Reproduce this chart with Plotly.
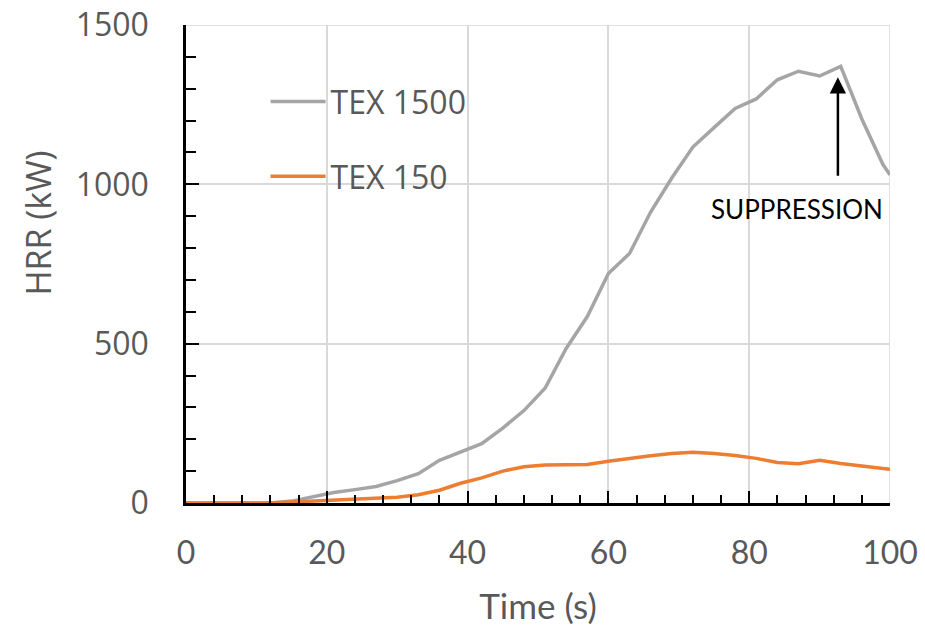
import plotly.graph_objects as go

time_s = [0, 3, 6, 9, 12, 15, 18, 21, 24, 27, 30, 33, 36, 39, 42, 45, 48, 51, 54, 57,
          60, 63, 66, 69, 72, 75, 78, 81, 84, 87, 90, 93, 96, 99, 100]
tex1500 = [0, 0, 0, 0, 0, 6, 20, 33, 42, 52, 70, 92, 134, 160, 186, 235, 290, 360, 485, 585,
           720, 783, 913, 1020, 1117, 1178, 1238, 1268, 1328, 1355, 1340, 1370, 1205, 1062, 1030]
tex150 = [0, 0, 0, 0, 0, 3, 6, 9, 12, 14, 18, 26, 40, 62, 79, 100, 114, 119, 120, 121,
          131, 140, 148, 155, 159, 155, 149, 140, 127, 123, 134, 124, 115, 108, 106]

series_names = ["TEX 1500", "TEX 150"]
series_colors = ["#A5A5A5", "#ED7D31"]
x_ticks = [0, 20, 40, 60, 80, 100]
y_ticks = [0, 500, 1000, 1500]
x_range = [0, 100]
y_range = [0, 1500]
arrow_x = 92.6
arrow_tail_y = 1022
arrow_head_y = 1336
annotation_text = "SUPPRESSION"

TXT = "#595959"
GRID = "#D9D9D9"

fig = go.Figure()
for i, (name, ys) in enumerate(zip(series_names, [tex1500, tex150])):
    fig.add_trace(go.Scatter(
        x=time_s, y=ys, mode="lines", name=name,
        line=dict(color=series_colors[i], width=3.5),
        legendgroup=f"g{i}",
    ))

# gridlines at the far edges (top and right) of the plot area
fig.add_shape(type="line", xref="x", yref="y", x0=x_range[0], x1=x_range[1],
              y0=y_range[1], y1=y_range[1], line=dict(color=GRID, width=1.5), layer="below")
fig.add_shape(type="line", xref="x", yref="y", x0=x_range[1], x1=x_range[1],
              y0=y_range[0], y1=y_range[1], line=dict(color=GRID, width=1.5), layer="below")

fig.add_annotation(
    x=arrow_x, y=arrow_head_y, ax=arrow_x, ay=arrow_tail_y,
    xref="x", yref="y", axref="x", ayref="y",
    text="", showarrow=True, arrowhead=2, arrowsize=1.3, arrowwidth=2.5,
    arrowcolor="black",
)
fig.add_annotation(
    x=86.8, y=922, xref="x", yref="y", text=annotation_text, showarrow=False,
    font=dict(family="Lato", size=26, color="black"),
)
fig.add_annotation(
    x=-0.21, y=0.585, xref="paper", yref="paper", text="HRR (kW)", showarrow=False,
    textangle=-90, xanchor="center", yanchor="middle",
    font=dict(family="Open Sans", size=34, color=TXT),
)

fig.update_layout(
    width=925, height=626,
    margin=dict(l=186, r=35, t=25, b=123, autoexpand=False),
    paper_bgcolor="white", plot_bgcolor="white",
    showlegend=True,
    legend=dict(
        x=0.113, y=0.897, xanchor="left", yanchor="top",
        bgcolor="rgba(0,0,0,0)", font=dict(family="Open Sans", size=32, color=TXT),
        itemwidth=55, tracegroupgap=30, traceorder="grouped",
    ),
    xaxis=dict(
        range=x_range, tickvals=x_ticks, ticktext=[str(v) for v in x_ticks],
        showgrid=True, gridcolor=GRID, gridwidth=1.5,
        showline=True, linecolor="black", linewidth=2.5,
        ticks="inside", ticklen=12, tickwidth=2, tickcolor="black",
        minor=dict(dtick=4, tick0=0, ticks="inside", ticklen=8, tickwidth=2,
                   tickcolor="black", showgrid=False),
        tickfont=dict(family="Lato", size=32, color=TXT),
        ticklabelstandoff=20,
        title=dict(text="Time (s)", font=dict(family="Lato", size=35, color=TXT), standoff=28),
        zeroline=False, automargin=False,
    ),
    yaxis=dict(
        range=y_range, tickvals=y_ticks, ticktext=[str(v) for v in y_ticks],
        showgrid=True, gridcolor=GRID, gridwidth=1.5,
        showline=True, linecolor="black", linewidth=2.5,
        ticks="inside", ticklen=13, tickwidth=2, tickcolor="black",
        minor=dict(dtick=100, tick0=0, ticks="inside", ticklen=10, tickwidth=2,
                   tickcolor="black", showgrid=False),
        tickfont=dict(family="Open Sans", size=32, color=TXT),
        ticklabelstandoff=28,
        zeroline=False, automargin=False,
    ),
)

fig.write_html("out.html")
